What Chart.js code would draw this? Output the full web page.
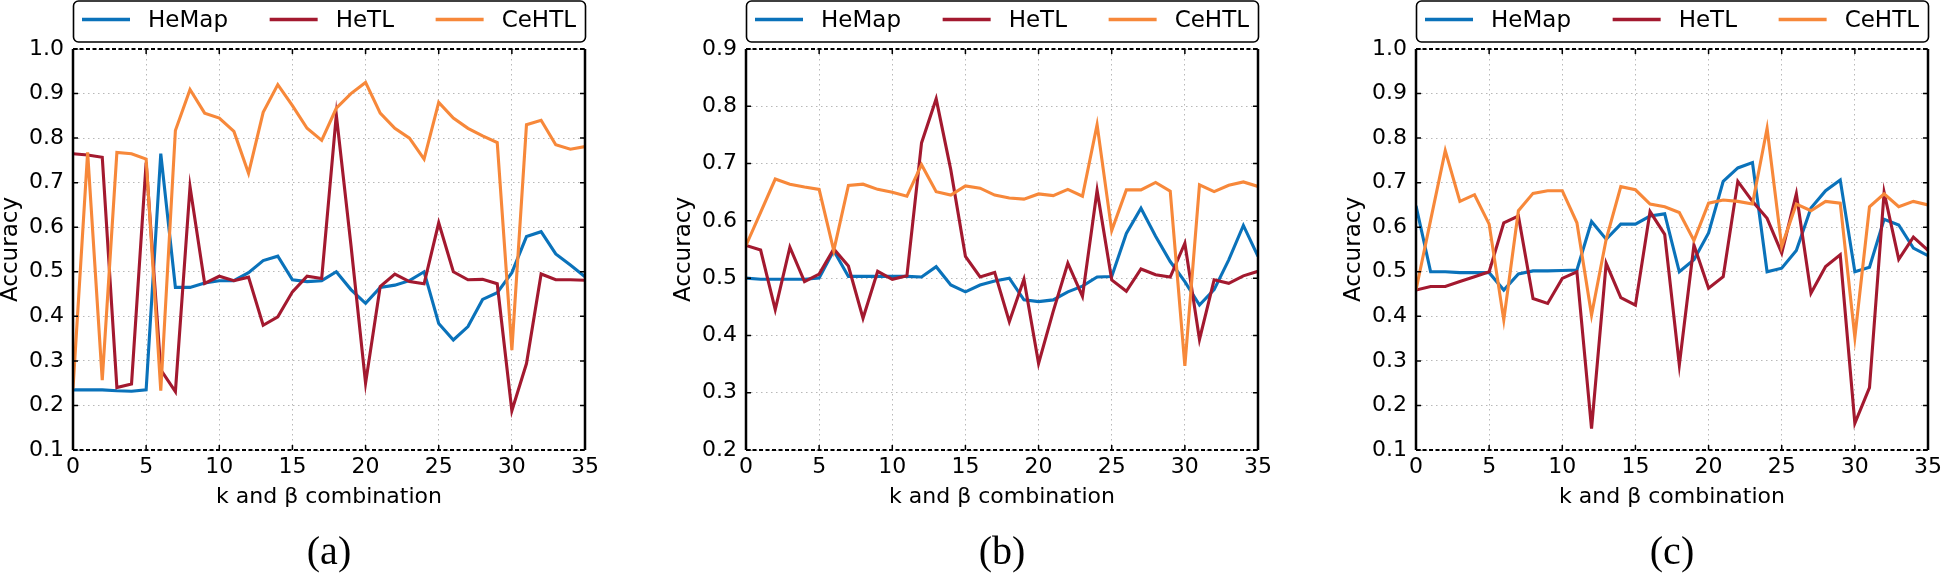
<!DOCTYPE html>
<html>
<head>
<meta charset="utf-8">
<script src="https://cdn.jsdelivr.net/npm/chart.js@4.4.0/dist/chart.umd.min.js"></script>
<style>
    body { margin: 0; background: #fff; }
    #page { position: relative; width: 1946px; height: 577px; overflow: hidden; }
    .panel { position: absolute; top: 0; }
</style>
</head>
<body>
<div id="page">
    <canvas id="chartA" class="panel" width="603" height="577" style="left:0px"></canvas>
    <canvas id="chartB" class="panel" width="603" height="577" style="left:673px"></canvas>
    <canvas id="chartC" class="panel" width="603" height="577" style="left:1343px"></canvas>
</div>
<script>
// k and beta combination index
const combos = [0, 1, 2, 3, 4, 5, 6, 7, 8, 9, 10, 11, 12, 13, 14, 15, 16, 17,
    18, 19, 20, 21, 22, 23, 24, 25, 26, 27, 28, 29, 30, 31, 32, 33, 34, 35];
const xTicks = [0, 5, 10, 15, 20, 25, 30, 35];
const yTicksAC = [0.1, 0.2, 0.3, 0.4, 0.5, 0.6, 0.7, 0.8, 0.9, 1.0];
const yTicksB = [0.2, 0.3, 0.4, 0.5, 0.6, 0.7, 0.8, 0.9];

// panel (a)
const hemapA = [0.235, 0.235, 0.235, 0.233, 0.232, 0.235, 0.765, 0.465, 0.465, 0.475, 0.48, 0.48,
    0.498, 0.525, 0.535, 0.482, 0.478, 0.48, 0.5, 0.46, 0.429, 0.465, 0.47, 0.48,
    0.5, 0.384, 0.347, 0.377, 0.438, 0.453, 0.498, 0.579, 0.59, 0.54, 0.515, 0.489];
const hetlA = [0.765, 0.762, 0.757, 0.24, 0.248, 0.745, 0.28, 0.231, 0.691, 0.474, 0.49, 0.48,
    0.488, 0.38, 0.399, 0.455, 0.49, 0.485, 0.852, 0.56, 0.25, 0.467, 0.495, 0.478,
    0.473, 0.61, 0.5, 0.482, 0.483, 0.473, 0.188, 0.294, 0.495, 0.482, 0.482, 0.481];
const cehtlA = [0.238, 0.768, 0.257, 0.768, 0.765, 0.753, 0.233, 0.817, 0.909, 0.856, 0.845, 0.815,
    0.721, 0.858, 0.92, 0.873, 0.822, 0.795, 0.867, 0.9, 0.925, 0.856, 0.822, 0.8,
    0.753, 0.88, 0.845, 0.822, 0.805, 0.79, 0.324, 0.83, 0.84, 0.785, 0.775, 0.781];

// panel (b)
const hemapB = [0.5, 0.498, 0.498, 0.498, 0.498, 0.5, 0.548, 0.503, 0.503, 0.503, 0.503, 0.503,
    0.502, 0.52, 0.488, 0.476, 0.488, 0.495, 0.5, 0.462, 0.459, 0.462, 0.476, 0.486,
    0.502, 0.503, 0.578, 0.622, 0.573, 0.529, 0.494, 0.453, 0.48, 0.532, 0.592, 0.538];
const hetlB = [0.557, 0.549, 0.445, 0.554, 0.494, 0.507, 0.551, 0.521, 0.43, 0.512, 0.498, 0.504,
    0.736, 0.813, 0.689, 0.538, 0.502, 0.51, 0.424, 0.498, 0.351, 0.442, 0.526, 0.468,
    0.653, 0.497, 0.477, 0.516, 0.506, 0.502, 0.561, 0.393, 0.497, 0.491, 0.504, 0.512];
const cehtlB = [0.557, 0.615, 0.673, 0.664, 0.659, 0.655, 0.548, 0.662, 0.664, 0.655, 0.65, 0.643,
    0.698, 0.651, 0.645, 0.661, 0.657, 0.645, 0.64, 0.638, 0.647, 0.644, 0.655, 0.643,
    0.768, 0.583, 0.654, 0.654, 0.667, 0.652, 0.347, 0.663, 0.651, 0.662, 0.668, 0.66];

// panel (c)
const hemapC = [0.648, 0.5, 0.5, 0.498, 0.498, 0.498, 0.459, 0.495, 0.502, 0.502, 0.503, 0.504,
    0.613, 0.573, 0.607, 0.607, 0.625, 0.63, 0.5, 0.527, 0.587, 0.703, 0.733, 0.745,
    0.5, 0.508, 0.548, 0.643, 0.682, 0.706, 0.5, 0.51, 0.618, 0.605, 0.553, 0.536];
const hetlC = [0.459, 0.467, 0.467, 0.478, 0.489, 0.5, 0.61, 0.625, 0.44, 0.429, 0.485, 0.5,
    0.148, 0.519, 0.442, 0.425, 0.635, 0.584, 0.291, 0.56, 0.463, 0.489, 0.703, 0.658,
    0.62, 0.542, 0.675, 0.452, 0.512, 0.538, 0.16, 0.24, 0.678, 0.528, 0.578, 0.548];
const cehtlC = [0.459, 0.616, 0.772, 0.658, 0.673, 0.607, 0.392, 0.637, 0.676, 0.682, 0.682, 0.61,
    0.403, 0.573, 0.691, 0.684, 0.652, 0.646, 0.633, 0.57, 0.654, 0.661, 0.658, 0.652,
    0.822, 0.557, 0.652, 0.637, 0.658, 0.654, 0.353, 0.646, 0.675, 0.646, 0.658, 0.65];

const seriesNames = ['HeMap', 'HeTL', 'CeHTL'];
const seriesColors = ['#0a72ba', '#a3192f', '#f7883a'];

// Draws the boxed legend spread across the plot width
const legendBox = {
    id: 'legendBox',
    afterDraw(chart) {
        const { ctx, chartArea: a } = chart;
        const top = 1, h = 41, pad = 9, handle = 48, gap = 18;
        ctx.save();
        ctx.font = '23px "DejaVu Sans"';
        const items = chart.data.datasets.map(d => ({
            label: d.label,
            color: d.borderColor,
            w: handle + gap + ctx.measureText(d.label).width
        }));
        const used = items.reduce((s, it) => s + it.w, 0);
        const spacing = (a.right - a.left - 2 * pad - used) / (items.length - 1);
        ctx.lineWidth = 1.6;
        ctx.strokeStyle = '#000';
        ctx.beginPath();
        ctx.roundRect(a.left + 0.5, top, a.right - a.left, h, 5);
        ctx.stroke();
        let x = a.left + pad;
        ctx.textBaseline = 'middle';
        items.forEach(it => {
            ctx.strokeStyle = it.color;
            ctx.lineWidth = 3.5;
            ctx.beginPath();
            ctx.moveTo(x, 19.5);
            ctx.lineTo(x + handle, 19.5);
            ctx.stroke();
            ctx.fillStyle = '#000';
            ctx.fillText(it.label, x + handle + gap, 21);
            x += it.w + spacing;
        });
        ctx.restore();
    }
};

// Spines and inward tick marks
const frame = {
    id: 'frame',
    afterDatasetsDraw(chart) {
        const { ctx, chartArea: a, scales: { x, y } } = chart;
        ctx.save();
        ctx.strokeStyle = '#000';
        ctx.lineWidth = 1.5;
        ctx.beginPath();
        y.ticks.forEach(t => {
            const py = y.getPixelForValue(t.value);
            ctx.moveTo(a.left, py); ctx.lineTo(a.left + 5, py);
            ctx.moveTo(a.right, py); ctx.lineTo(a.right - 5, py);
        });
        x.ticks.forEach(t => {
            const px = x.getPixelForValue(t.value);
            ctx.moveTo(px, a.top); ctx.lineTo(px, a.top + 5);
            ctx.moveTo(px, a.bottom); ctx.lineTo(px, a.bottom - 5);
        });
        ctx.stroke();
        ctx.lineWidth = 2.5;
        ctx.beginPath();
        ctx.moveTo(a.left, a.top); ctx.lineTo(a.left, a.bottom);
        ctx.moveTo(a.right, a.top); ctx.lineTo(a.right, a.bottom);
        ctx.stroke();
        ctx.lineWidth = 2;
        ctx.setLineDash([4, 2.5]);
        ctx.beginPath();
        ctx.moveTo(a.left, a.top); ctx.lineTo(a.right, a.top);
        ctx.moveTo(a.left, a.bottom); ctx.lineTo(a.right, a.bottom);
        ctx.stroke();
        ctx.restore();
    }
};

function makePanel(canvasId, tag, yTicks, values) {
    const datasets = values.map((vals, i) => ({
        label: seriesNames[i],
        data: combos.map((c, j) => ({ x: c, y: vals[j] })),
        borderColor: seriesColors[i],
        backgroundColor: seriesColors[i],
        borderWidth: 3.1,
        pointRadius: 0,
        tension: 0,
        order: values.length - i
    }));
    const gridStyle = { color: '#b8b8b8', lineWidth: 1, drawTicks: false };
    new Chart(document.getElementById(canvasId), {
        type: 'line',
        data: { datasets: datasets },
        options: {
            responsive: false,
            animation: false,
            layout: { padding: { top: 49, right: 13, left: 0, bottom: 0 } },
            plugins: {
                legend: { display: false },
                tooltip: { enabled: false },
                title: {
                    display: true,
                    text: tag,
                    position: 'bottom',
                    fullSize: false,
                    color: '#000',
                    padding: 0,
                    font: { family: 'Liberation Serif', size: 40, weight: 'normal', lineHeight: 1.2 }
                }
            },
            scales: {
                x: {
                    type: 'linear',
                    min: xTicks[0],
                    max: xTicks[xTicks.length - 1],
                    afterBuildTicks: s => { s.ticks = xTicks.map(v => ({ value: v })); },
                    afterFit: s => { s.height = 79; },
                    grid: gridStyle,
                    border: { display: false, dash: [1.5, 3.5] },
                    ticks: {
                        color: '#000',
                        padding: 4,
                        maxRotation: 0,
                        font: { family: 'DejaVu Sans', size: 22 }
                    },
                    title: {
                        display: true,
                        text: 'k and β combination',
                        color: '#000',
                        padding: { top: 0, bottom: 19 },
                        font: { family: 'DejaVu Sans', size: 22 }
                    }
                },
                y: {
                    min: yTicks[0],
                    max: yTicks[yTicks.length - 1],
                    afterBuildTicks: s => { s.ticks = yTicks.map(v => ({ value: v })); },
                    afterFit: s => { s.width = 73; },
                    grid: gridStyle,
                    border: { display: false, dash: [1.5, 3.5] },
                    ticks: {
                        color: '#000',
                        padding: 9,
                        callback: v => v.toFixed(1),
                        font: { family: 'DejaVu Sans', size: 22 }
                    },
                    title: {
                        display: true,
                        text: 'Accuracy',
                        color: '#000',
                        padding: 0,
                        font: { family: 'DejaVu Sans', size: 23, lineHeight: 1 }
                    }
                }
            }
        },
        plugins: [frame, legendBox]
    });
}

makePanel('chartA', '(a)', yTicksAC, [hemapA, hetlA, cehtlA]);
makePanel('chartB', '(b)', yTicksB, [hemapB, hetlB, cehtlB]);
makePanel('chartC', '(c)', yTicksAC, [hemapC, hetlC, cehtlC]);
</script>
</body>
</html>
